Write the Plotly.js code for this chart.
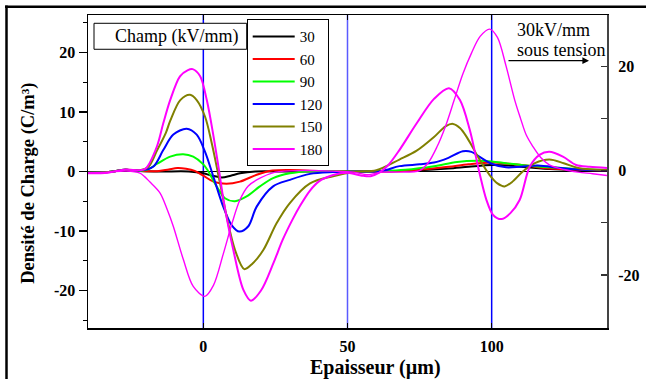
<!DOCTYPE html>
<html>
<head>
<meta charset="utf-8">
<script src="https://cdn.plot.ly/plotly-3.0.1.min.js"></script>
<style>html,body{margin:0;padding:0;background:#fff;}#chart{width:646px;height:379px;}</style>
</head>
<body>
<div id="chart"></div>
<script>
// ---- Data ----
const fieldLabels = ['30', '60', '90', '120', '150', '180'];
const fieldColors = ['#000000', '#ff0000', '#00ff00', '#0000ff', '#808000', '#ff00ff'];

const x30 = [-40,-33,-27,-22,-15,-5,0,3,6.4,9.5,12.7,18,28,40,55,65,75,85,92,100,106,112,120,130,140];
const y30 = [-0.2,-0.1,0.3,0.1,0,0,-0.3,-0.7,-1.0,-0.7,-0.3,0,0,0,0,0.05,0.2,0.5,0.8,1.1,1.0,0.7,0.4,0.2,0.1];

const x60 = [-40,-33,-27,-22,-16,-12,-9,-6,-3,0,3.5,8,12.7,18.5,24,30,40,55,65,75,85,92,100,106,112,120,130,140];
const y60 = [-0.2,-0.1,0.3,0.1,0.05,0.35,0.57,0.45,0.1,-0.7,-1.7,-2.07,-1.7,-0.55,0.15,0.25,0.1,0,0,0.3,0.8,1.2,1.5,1.3,1.0,0.5,0.3,0.2];

const x90 = [-40,-33,-27,-22,-19,-16,-11.5,-7,-3.5,0,1.5,4.6,7.5,11,15,19.6,24.2,30,37,50,62,70,80,88,95,100,105,112,120,130,140];
const y90 = [-0.2,-0.1,0.3,0.1,0.4,1.3,2.5,2.9,2.5,1.2,0.2,-2.5,-4.5,-5.0,-4.2,-2.5,-1.1,-0.3,0.05,0,0.1,0.3,0.9,1.6,1.8,1.7,1.4,1.0,0.7,0.4,0.25];

const x120 = [-40,-33,-27,-22,-17.3,-13.9,-10.4,-5.8,-2.3,0.6,3.5,6.9,9.8,12.5,15.6,18.5,24.2,30,37,45,55,62,68,75,80,85,90,93,96,100,105,110,116,124,132,140];
const y120 = [-0.2,-0.1,0.3,0.15,0.84,3.6,6.2,7.2,6.2,3.3,-0.9,-5.9,-9,-10.1,-9.2,-5.9,-2.5,-1.4,-0.4,-0.1,0,0.1,0.9,1.2,1.5,2.3,3.4,3.3,2.4,1.3,0.7,0.8,1.0,0.6,0.3,0.2];

const x150 = [-40,-33,-27,-22,-19,-16,-13,-11.5,-8,-4.6,-2.3,0.6,2.9,5.8,8.1,11,14.2,17,20.8,25.4,30,37,45,53,60,68,74,80,84,86.6,89,91.2,93.5,95.8,99.3,102,104.5,107,110.8,115,120,125,130,140];
const y150 = [-0.2,-0.1,0.3,0.2,0.8,3.6,6.5,8.5,12,12.9,12,9.2,4.8,-2,-7.6,-13.2,-16.4,-15.5,-13.2,-8.7,-5.3,-2.0,-0.8,-0.05,0.2,2.0,3.5,5.8,7.6,8.0,7.3,5.9,4,2.0,-0.6,-2.0,-2.5,-1.8,0,1.4,2.0,1.4,0.6,0.25];

const x180 = [-40,-33,-27,-22,-20,-16.1,-13.9,-11.5,-8.1,-5.5,-3.7,-1.1,1.2,3.5,5.5,7,10.4,13.9,16.5,20,24.3,27.5,31,33.5,37,40,45,50,55,58,61,64,68,74,80,85.2,89,92.4,95.8,98.2,100.5,103.4,106.5,109.7,113.2,116.6,120,124.7,129.3,134,140];
const y180 = [-0.3,-0.2,0.35,0.2,0.5,4.2,8.1,12,16,17,17.2,16,12,6,0,-4.8,-13.2,-19.9,-21.7,-20,-15.4,-11.5,-8,-5.8,-3.2,-1.7,-0.6,-0.2,-0.7,-0.8,-0.2,1.0,3.6,8.1,12.2,14.0,12,7,-0.3,-4.8,-7.3,-8.0,-7,-4.8,0.8,2.8,3.3,2.5,1.1,0.8,0.6];

// 30 kV/mm "sous tension" profile, read on the right axis
const xTension = [-40,-33,-27,-22,-18.5,-15,-12.5,-10.4,-6.9,-3.5,0.5,3.5,6.9,10,12.7,15.5,18.5,25,35,45,52,57,62,68,75,78,81,84,87,90,93,96,99.3,102,105,108,110,112,114.3,117,120,125,130,135,141];
const yTension = [-0.4,-0.3,-0.1,-0.5,-2.2,-4.3,-7.5,-10.7,-17.1,-22.2,-24.1,-22,-16,-10,-5.6,-3,-1.8,-0.3,0,-0.1,-0.3,-0.8,-0.3,-0.3,0,1.5,4.5,8.5,13.5,18.5,22.5,25.7,27.1,25.5,20,13.5,10,6.8,4.6,2.5,1.1,0.2,-0.3,-0.6,-1.0];

const electrodeX = [0, 50, 100];
const electrodeColors = ['#0000ff', '#5a5aff', '#0000ff'];

const xTicks = [0, 50, 100];
const yTicksLeft = [-20, -10, 0, 10, 20];
const yTicksRight = [-20, 0, 20];

// ---- Build chart ----
const serif = '"Liberation Serif", "Times New Roman", serif';
const xs = [x30, x60, x90, x120, x150, x180];
const ys = [y30, y60, y90, y120, y150, y180];

const traces = [];
fieldLabels.forEach((name, i) => {
  traces.push({
    x: xs[i], y: ys[i], name: name, type: 'scatter', mode: 'lines',
    line: {color: fieldColors[i], width: 2, shape: 'spline', smoothing: 0.9},
    xaxis: 'x', yaxis: 'y'
  });
});
traces.push({
  x: xTension, y: yTension, name: '30kV/mm sous tension', type: 'scatter', mode: 'lines',
  line: {color: '#ff00ff', width: 1.4, shape: 'spline', smoothing: 0.9},
  xaxis: 'x', yaxis: 'y2', showlegend: false
});

// pixel -> paper helpers for decorations
const L = 88, R = 607, T = 15, B = 328.3;
const px = v => (v - L) / (R - L);
const py = v => (B - v) / (B - T);

const shapes = electrodeX.map((xv, i) => ({
  type: 'line', xref: 'x', yref: 'paper', x0: xv, x1: xv, y0: 0, y1: 1,
  line: {color: electrodeColors[i], width: 1.5}, layer: 'below'
}));
// "Champ" box
shapes.push({type: 'rect', xref: 'paper', yref: 'paper', x0: px(94), x1: px(246.7), y0: py(49.3), y1: py(23.3),
  line: {color: '#000', width: 1}, fillcolor: '#fff', layer: 'below'});
// outer frame (top and left)
shapes.push({type: 'line', xref: 'paper', yref: 'paper', x0: px(5), x1: px(700), y0: py(6.8), y1: py(6.8), line: {color: '#000', width: 2.5}});
shapes.push({type: 'line', xref: 'paper', yref: 'paper', x0: px(6.5), x1: px(6.5), y0: py(400), y1: py(5.5), line: {color: '#000', width: 2.5}});

const annotations = [
  {xref: 'paper', yref: 'paper', x: px(113), y: py(36.5), xanchor: 'left', yanchor: 'middle', showarrow: false,
   text: 'Champ (kV/mm)', font: {family: serif, size: 18, color: '#000'}},
  {xref: 'paper', yref: 'paper', x: px(515), y: py(30), xanchor: 'left', yanchor: 'middle', showarrow: false,
   text: '30kV/mm', font: {family: serif, size: 18, color: '#000'}},
  {xref: 'paper', yref: 'paper', x: px(515), y: py(50), xanchor: 'left', yanchor: 'middle', showarrow: false,
   text: 'sous tension', font: {family: serif, size: 18, color: '#000'}},
  {xref: 'paper', yref: 'paper', x: px(589), y: py(60.7), ax: -82, ay: 0, axref: 'pixel', ayref: 'pixel',
   text: '', showarrow: true, arrowhead: 2, arrowsize: 1.1, arrowwidth: 1.2, arrowcolor: '#000'},
  {xref: 'paper', yref: 'paper', x: px(376), y: py(367.5), xanchor: 'center', yanchor: 'middle', showarrow: false,
   text: 'Epaisseur (µm)', font: {family: serif, size: 20, color: '#000', weight: 'bold'}},
  {xref: 'paper', yref: 'paper', x: px(29), y: py(184), xanchor: 'center', yanchor: 'middle', showarrow: false,
   textangle: -90, text: 'Densité de Charge (C/m³)', font: {family: serif, size: 18.5, color: '#000', weight: 'bold'}}
];

const tickFont = {family: serif, size: 16, color: '#000', weight: 'bold'};

const layout = {
  width: 646, height: 379,
  margin: {l: L, r: 646 - R, t: T, b: 379 - B, pad: 0},
  paper_bgcolor: '#fff', plot_bgcolor: '#fff',
  showlegend: true,
  legend: {x: px(246.7), y: py(19.3), xanchor: 'left', yanchor: 'top',
    bgcolor: '#fff', bordercolor: '#000', borderwidth: 1, itemwidth: 42,
    font: {family: serif, size: 15, color: '#000'}, tracegroupgap: 0},
  xaxis: {range: [-40, 140], tickvals: xTicks, ticktext: xTicks.map(String),
    ticks: 'inside', ticklen: 5, tickwidth: 1.2, tickcolor: '#000',
    showline: true, linecolor: '#000', linewidth: 1.5, mirror: 'ticks',
    showgrid: false, zeroline: false, tickfont: tickFont, ticklabelstandoff: 3, fixedrange: true},
  yaxis: {range: [-26.3, 26.3], tickvals: yTicksLeft, ticktext: yTicksLeft.map(String),
    ticks: 'outside', ticklen: 8, tickwidth: 1.2, tickcolor: '#000',
    minor: {dtick: 5, tick0: 0, ticks: 'outside', ticklen: 4, tickcolor: '#000', tickwidth: 1.2},
    showline: true, linecolor: '#000', linewidth: 1.5,
    showgrid: false, zeroline: true, zerolinecolor: '#000', zerolinewidth: 1.2,
    tickfont: tickFont, fixedrange: true},
  yaxis2: {overlaying: 'y', side: 'right', range: [-30.16, 29.8], tickvals: yTicksRight, ticktext: yTicksRight.map(String),
    ticks: 'inside', ticklen: 6, tickwidth: 1.2, tickcolor: '#333',
    minor: {dtick: 10, tick0: 0, ticks: 'inside', ticklen: 6, tickcolor: '#333', tickwidth: 1.2},
    showline: true, linecolor: '#444', linewidth: 2,
    showgrid: false, zeroline: false, tickfont: tickFont, ticklabelstandoff: 6, fixedrange: true},
  shapes: shapes,
  annotations: annotations
};

Plotly.newPlot('chart', traces, layout, {staticPlot: true, displayModeBar: false});
</script>
</body>
</html>
